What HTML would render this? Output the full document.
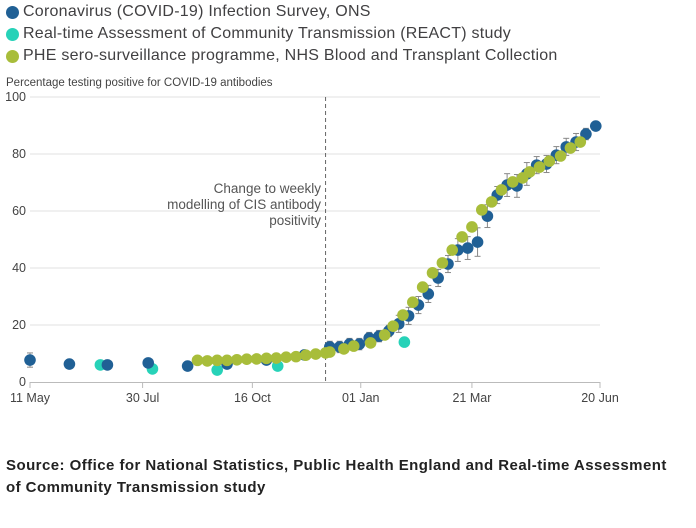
<!DOCTYPE html>
<html><head><meta charset="utf-8"><style>
body{margin:0;background:#fff;font-family:"Liberation Sans",sans-serif;}
#wrap{position:relative;width:696px;height:528px;overflow:hidden}
.leg{position:absolute;left:6px;font-size:16px;letter-spacing:0.25px;color:#414042;display:flex;align-items:center}
.leg span.d{display:inline-block;width:13px;height:13px;border-radius:50%;margin-right:4px}
#src{position:absolute;left:6px;top:455px;font-size:15px;letter-spacing:0.45px;font-weight:bold;color:#222;line-height:22px;width:684px}
</style></head><body><div id="wrap">
<div class="leg" style="top:3px"><span class="d" style="background:#206095"></span>Coronavirus (COVID-19) Infection Survey, ONS</div>
<div class="leg" style="top:25px"><span class="d" style="background:#27d2b8"></span>Real-time Assessment of Community Transmission (REACT) study</div>
<div class="leg" style="top:47px"><span class="d" style="background:#a8bd3a"></span>PHE sero-surveillance programme, NHS Blood and Transplant Collection</div>
<svg id="svg" width="696" height="528" style="position:absolute;left:0;top:0"></svg>
<div id="src">Source: Office for National Statistics, Public Health England and Real-time Assessment<br>of Community Transmission study</div>
</div>
<script>
const yTicks=[0,20,40,60,80,100];
const xTickLabels=["11 May","30 Jul","16 Oct","01 Jan","21 Mar","20 Jun"];
const xTickDays=[0,80,158,235,314,405];
const onsDays=[0,28,55,84,112,140,168,195,213,220,227,234,241,248,255,262,269,276,283,290,297,304,311,318,325,332,339,346,353,360,367,374,381,388,395,402];
const onsVals=[7.7,6.3,6.0,6.7,5.6,6.3,7.7,9.5,12.3,12.3,13.3,13.3,15.4,16.1,17.9,20.4,23.2,27,30.9,36.5,41.4,46.3,47,49.1,58.2,65.6,69.1,68.8,73,76.1,76.5,79.6,82.5,84.2,87,89.8];
const onsErr=[2.5,1.5,1,1.5,1,1,1,1,2,2,2,2,2,2,2,3,3,3,3,3,3,4,4,5,4,3,4,4,4,3,3,3,3,3,2,1];
const reactDays=[50,87,133,176,266];
const reactVals=[6.0,4.6,4.2,5.6,14.0];
const pheDays=[119,126,133,140,147,154,161,168,175,182,189,196,203,210,213,223,230,242,252,258,265,272,279,286,293,300,307,314,321,328,335,343,350,355,362,369,377,384,391];
const pheVals=[7.6,7.4,7.6,7.6,7.8,8.0,8.1,8.3,8.4,8.7,8.9,9.4,9.8,10.2,10.5,11.6,12.6,13.7,16.5,19.6,23.5,28,33.3,38.3,41.8,46.3,50.9,54.4,60.4,63.2,67.4,70.2,71.6,73.7,75.4,77.5,79.3,82.1,84.2];
const X=d=>30+d*570/405, Y=v=>382-v*2.85;
const svg=document.getElementById('svg'),NS='http://www.w3.org/2000/svg';
function mk(t,a,p){const e=document.createElementNS(NS,t);for(const k in a)e.setAttribute(k,a[k]);(p||svg).appendChild(e);return e;}
yTicks.forEach(v=>{
 if(v>0){const g=mk('line',{x1:30,x2:600,y1:Y(v),y2:Y(v),stroke:'#e2e2e2'});
 
 }
 const t=mk('text',{x:26,y:Y(v)+4,'text-anchor':'end','font-size':12.5,fill:'#444'});t.textContent=v;
 
 
});
const ax=mk('line',{x1:30,x2:600,y1:382.5,y2:382.5,stroke:'#bbb'});


xTickDays.forEach((d,i)=>{
 mk('line',{x1:X(d),x2:X(d),y1:382,y2:388,stroke:'#bbb'});
 const t=mk('text',{x:X(d),y:402,'text-anchor':'middle','font-size':12.5,fill:'#444'});t.textContent=xTickLabels[i];
 
 
});
const yt=mk('text',{x:6,y:86,'font-size':11.5,fill:'#444'});yt.textContent='Percentage testing positive for COVID-19 antibodies';


const dl=mk('line',{x1:X(210),x2:X(210),y1:97,y2:382,stroke:'#666','stroke-dasharray':'4,3'});


["Change to weekly","modelling of CIS antibody","positivity"].forEach((s,i)=>{const t=mk('text',{x:321,y:193+i*16,'text-anchor':'end','font-size':13.5,fill:'#555'});t.textContent=s;
 
 });
onsDays.forEach((d,i)=>{const x=X(d),e=onsErr[i];
 mk('line',{x1:x,x2:x,y1:Y(onsVals[i]+e),y2:Y(onsVals[i]-e),stroke:'#888'});
 mk('line',{x1:x-3,x2:x+3,y1:Y(onsVals[i]+e),y2:Y(onsVals[i]+e),stroke:'#888'});
 mk('line',{x1:x-3,x2:x+3,y1:Y(onsVals[i]-e),y2:Y(onsVals[i]-e),stroke:'#888'});});
function dots(days,vals,col,name){days.forEach((d,i)=>{const c=mk('circle',{cx:X(d),cy:Y(vals[i]),r:5.8,fill:col});
 
 });}
dots(reactDays,reactVals,'#27d2b8','react-point');
dots(onsDays,onsVals,'#206095','ons-point');
dots(pheDays,pheVals,'#a8bd3a','phe-point');
</script></body></html>
